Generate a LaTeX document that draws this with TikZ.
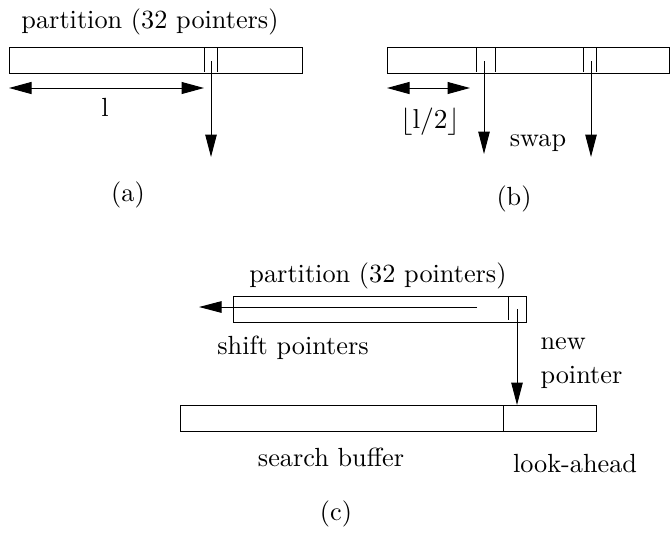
\documentclass[tikz,border=0pt]{standalone}
\usetikzlibrary{arrows.meta}
\begin{document}
\begin{tikzpicture}[x=0.4pt,y=-0.4pt,
  lbl/.style={font=\fontsize{10.5}{12.6}\selectfont, inner sep=0pt, anchor=base},
  arr/.style={-{Triangle[length=9pt,width=4.6pt]}},
  darr/.style={{Triangle[length=9pt,width=4.8pt]}-{Triangle[length=9pt,width=4.8pt]}},
  box/.style={draw, line width=0.4pt}]
\useasboundingbox (0,0) rectangle (672,547);
% ---------- (a)
\node[lbl] (ta) at (150,28) {partition (32 pointers)};
\draw[box] (9,47) rectangle (302,73);
\draw (204,47) -- (204,72) (217,47) -- (217,72);
\coordinate (a1) at (211,61);
\coordinate (a2) at (211,157);
\draw[arr] (a1) -- (a2);
\coordinate (al) at (9,88);
\coordinate (ar) at (204,88);
\draw[darr] (al) -- (ar);
\node[lbl] (la) at (105,116) {l};
\node[lbl] (capa) at (128,201) {(a)};
% ---------- (b)
\draw[box] (387,47) rectangle (669,73);
\draw (476,47) -- (476,72) (495,47) -- (495,72);
\draw (583,47) -- (583,72) (596,47) -- (596,72);
\coordinate (b1) at (484,61);
\coordinate (b2) at (484,154);
\coordinate (b3) at (591,61);
\coordinate (b4) at (591,157);
\draw[arr] (b1) -- (b2);
\draw[arr] (b3) -- (b4);
\coordinate (bl) at (387,88);
\coordinate (br) at (470,88);
\draw[darr] (bl) -- (br);
\node[lbl] (lb) at (430,128) {$\lfloor\mathrm{l}/2\rfloor$};
\node[lbl] (sw) at (538,146) {swap};
\node[lbl] (capb) at (514,205) {(b)};
% ---------- (c)
\node[lbl] (tc) at (378,282) {partition (32 pointers)};
\draw[box] (233,296) rectangle (526,322);
\draw (508,296) -- (508,320);
\coordinate (c1) at (477,307);
\coordinate (c2) at (199,307);
\draw[arr] (c1) -- (c2);
\node[lbl] (sp) at (293,354) {shift pointers};
\node[lbl, anchor=base west] (nw) at (540,349) {new};
\node[lbl, anchor=base west] (np) at (540,383) {pointer};
\coordinate (c3) at (517,309);
\coordinate (c4) at (517,405);
\draw[arr] (c3) -- (c4);
\draw[box] (180,405) rectangle (596,431);
\draw (503,405) -- (503,431);
\node[lbl] (sb) at (331,466) {search buffer};
\node[lbl] (la2) at (575,472) {look-ahead};
\node[lbl] (capc) at (336,520) {(c)};
\end{tikzpicture}
\end{document}
